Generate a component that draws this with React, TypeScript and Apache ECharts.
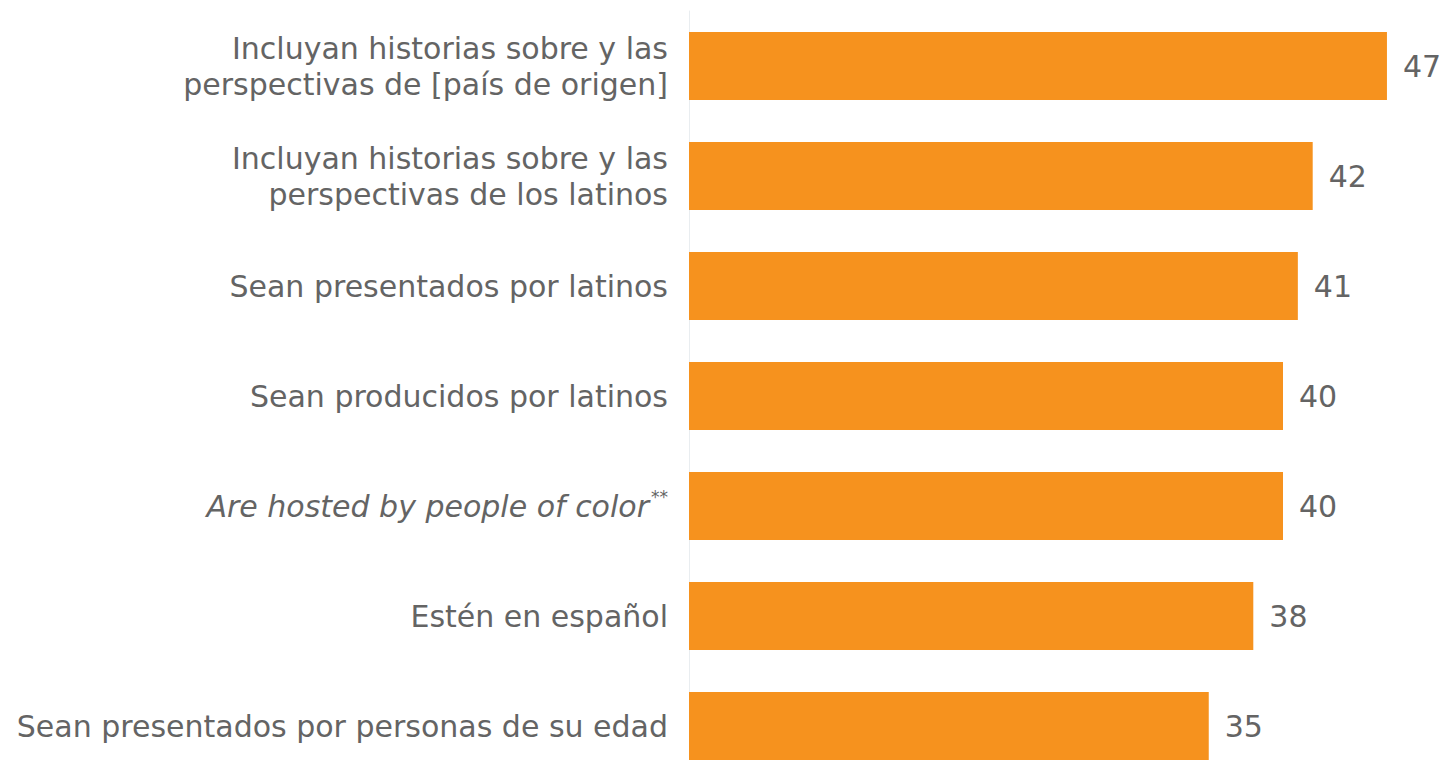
import React, { useEffect, useRef } from "react";
import * as echarts from "echarts";

const categories: string[] = [
  "Incluyan historias sobre y las\nperspectivas de [país de origen]",
  "Incluyan historias sobre y las\nperspectivas de los latinos",
  "Sean presentados por latinos",
  "Sean producidos por latinos",
  "Are hosted by people of color**",
  "Estén en español",
  "Sean presentados por personas de su edad",
];
const values: number[] = [47, 42, 41, 40, 40, 38, 35];
const italicCategories: string[] = ["Are hosted by people of color**"];

const FONT = "'DejaVu Sans', sans-serif";
const TEXT_COLOR = "#646464";
const BAR_COLOR = "#F6921E";

export default function App() {
  const ref = useRef<HTMLDivElement>(null);
  useEffect(() => {
    if (!ref.current) return;
    const chart = echarts.init(ref.current, null, { renderer: "svg" });
    chart.setOption({
      animation: false,
      backgroundColor: "#ffffff",
      grid: { left: 689, top: 11, width: 742.5, height: 770, containLabel: false },
      xAxis: {
        type: "value",
        min: 0,
        max: 50,
        show: false,
        splitLine: { show: false },
      },
      yAxis: {
        type: "category",
        inverse: true,
        data: categories,
        axisTick: { show: false },
        axisLine: { show: true, lineStyle: { color: "#E9EDF0", width: 1 } },
        axisLabel: {
          margin: 21,
          fontSize: 30,
          lineHeight: 36,
          color: TEXT_COLOR,
          fontFamily: FONT,
          formatter: (v: string) => {
            if (!italicCategories.includes(v)) return v;
            const base = v.replace(/\*+$/, "");
            const stars = v.slice(base.length);
            return `{i|${base}}{s|${stars}}`;
          },
          rich: {
            i: {
              fontSize: 30,
              lineHeight: 36,
              fontStyle: "italic",
              color: TEXT_COLOR,
              fontFamily: FONT,
            },
            s: {
              fontSize: 17,
              lineHeight: 36,
              fontStyle: "italic",
              color: TEXT_COLOR,
              fontFamily: FONT,
              verticalAlign: "top",
              padding: [0, 0, 14, 2],
            },
          },
        },
      },
      series: [
        {
          type: "bar",
          data: values,
          barWidth: 68,
          itemStyle: { color: BAR_COLOR },
          label: {
            show: true,
            position: "right",
            distance: 16,
            fontSize: 30,
            color: TEXT_COLOR,
            fontFamily: FONT,
          },
        },
      ],
    });
    return () => chart.dispose();
  }, []);
  return (
    <div style={{ position: "fixed", left: 0, top: 0, width: 1445, height: 760, overflow: "hidden" }}>
      <div ref={ref} style={{ width: 1445, height: 792 }} />
    </div>
  );
}
